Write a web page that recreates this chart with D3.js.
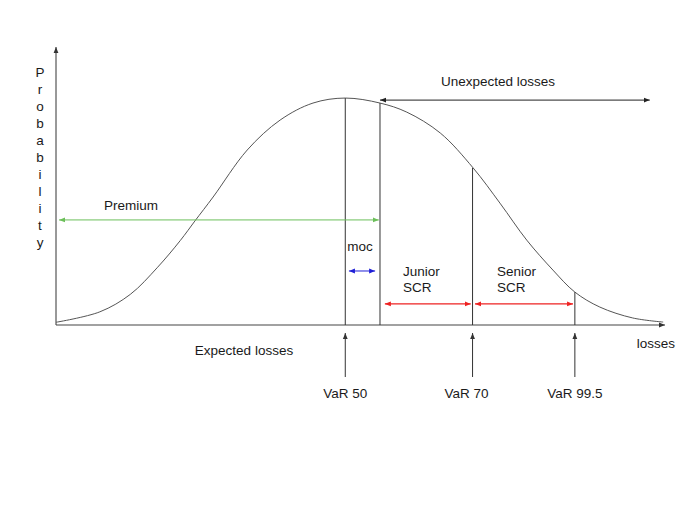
<!DOCTYPE html>
<html>
<head>
<meta charset="utf-8">
<script src="https://cdn.jsdelivr.net/npm/d3@7"></script>
<style>
  body { margin: 0; background: #fff; }
  text { font-family: "Liberation Sans", Arial, sans-serif; font-size: 13.5px; fill: #1a1a1a; }
</style>
</head>
<body>
<div id="canvas"></div>
<script>
// curve: losses (0-100) vs relative probability (peak = 1)
const lossX = [0, 7.2, 12.2, 16.6, 20.4, 22.8, 25.8, 31.4, 36.8, 42.2, 47.5,
    53.2, 57.6, 63.1, 68.5, 72.9, 77.3, 81.6, 85.2, 89.3, 94.7, 99.7];
const probY = [0.012, 0.058, 0.135, 0.252, 0.372, 0.458, 0.564, 0.771, 0.903, 0.978, 1.0,
    0.978, 0.938, 0.846, 0.692, 0.537, 0.374, 0.242, 0.145, 0.079, 0.031, 0.013];

// vertical markers
const markerX = [47.5, 53.2, 68.4, 85.2];
const markerTop = [1.0, 0.978, 0.692, 0.145];

// VaR labels below the axis
const varNames = ["VaR 50", "VaR 70", "VaR 99.5"];
const varX = [47.5, 68.4, 85.2];

// horizontal double arrows
const arrowNames = ["premium", "unexpected", "moc", "junior", "senior"];
const arrowFrom = [0.5, 53.2, 48.1, 54.0, 68.8];
const arrowTo = [53.0, 97.5, 52.4, 68.1, 84.9];
const arrowLevel = [0.463, 0.991, 0.238, 0.093, 0.093];
const arrowColor = ["#6cbf5a", "#222", "#1f1fd6", "#ee2222", "#ee2222"];

const svg = d3.select("#canvas").append("svg")
    .attr("width", 700)
    .attr("height", 525);

const x = d3.scaleLinear().domain([0, 100]).range([56, 665]);
const y = d3.scaleLinear().domain([0, 1.225]).range([325, 47]);

// arrowhead markers, one per colour
const defs = svg.append("defs");
const colors = Array.from(new Set(arrowColor.concat(["#333"])));
colors.forEach(function (c, i) {
    defs.append("marker")
        .attr("id", "head" + i)
        .attr("viewBox", "0 0 10 10")
        .attr("refX", 10)
        .attr("refY", 5)
        .attr("markerWidth", 6)
        .attr("markerHeight", 6)
        .attr("markerUnits", "userSpaceOnUse")
        .attr("orient", "auto-start-reverse")
        .append("path")
        .attr("d", "M0,1L10,5L0,9Z")
        .attr("fill", c);
});
const headFor = c => "url(#head" + colors.indexOf(c) + ")";

// axes
svg.append("line")
    .attr("x1", x(0)).attr("y1", y(0))
    .attr("x2", x(0)).attr("y2", y(1.225))
    .attr("stroke", "#333").attr("stroke-width", 1)
    .attr("marker-end", headFor("#333"));
svg.append("line")
    .attr("x1", x(0)).attr("y1", y(0))
    .attr("x2", x(100)).attr("y2", y(0))
    .attr("stroke", "#444").attr("stroke-width", 1.2)
    .attr("marker-end", headFor("#333"));

// the loss distribution
const pts = lossX.map((d, i) => [d, probY[i]]);
svg.append("path")
    .datum(pts)
    .attr("fill", "none")
    .attr("stroke", "#555")
    .attr("stroke-width", 1)
    .attr("d", d3.line()
        .x(d => x(d[0]))
        .y(d => y(d[1]))
        .curve(d3.curveCatmullRom.alpha(0.5)));

// vertical markers up to the curve
svg.selectAll(".marker")
    .data(markerX)
    .join("line")
    .attr("x1", d => x(d)).attr("x2", d => x(d))
    .attr("y1", y(0))
    .attr("y2", (d, i) => y(markerTop[i]))
    .attr("stroke", "#333")
    .attr("stroke-width", 1);

// horizontal double arrows
svg.selectAll(".harrow")
    .data(arrowNames)
    .join("line")
    .attr("x1", (d, i) => x(arrowFrom[i]))
    .attr("x2", (d, i) => x(arrowTo[i]))
    .attr("y1", (d, i) => y(arrowLevel[i]))
    .attr("y2", (d, i) => y(arrowLevel[i]))
    .attr("stroke", (d, i) => arrowColor[i])
    .attr("stroke-width", (d, i) => i >= 3 ? 1.4 : 1)
    .attr("marker-start", (d, i) => headFor(arrowColor[i]))
    .attr("marker-end", (d, i) => headFor(arrowColor[i]));

// VaR arrows below the axis
svg.selectAll(".varrow")
    .data(varX)
    .join("line")
    .attr("x1", d => x(d)).attr("x2", d => x(d))
    .attr("y1", 377).attr("y2", 333)
    .attr("stroke", "#333").attr("stroke-width", 1)
    .attr("marker-end", headFor("#333"));

svg.selectAll(".varlabel")
    .data(varNames)
    .join("text")
    .attr("x", (d, i) => x(varX[i]) - (i === 1 ? 6 : 0))
    .attr("y", 398)
    .attr("text-anchor", "middle")
    .text(d => d);

// vertical axis title, one letter per row
svg.selectAll(".ylab")
    .data("Probability".split(""))
    .join("text")
    .attr("x", 40)
    .attr("y", (d, i) => 77 + i * 17)
    .attr("text-anchor", "middle")
    .text(d => d);

// other labels
function label(t, px, py, anchor) {
    svg.append("text")
        .attr("x", px).attr("y", py)
        .attr("text-anchor", anchor || "start")
        .text(t);
}
label("Unexpected losses", 498, 86, "middle");
label("Premium", 131, 210, "middle");
label("moc", 360, 251, "middle");
label("Junior", 403, 276);
label("SCR", 403, 292);
label("Senior", 497, 276);
label("SCR", 497, 292);
label("Expected losses", 244, 355, "middle");
label("losses", 656, 348, "middle");
</script>
</body>
</html>
